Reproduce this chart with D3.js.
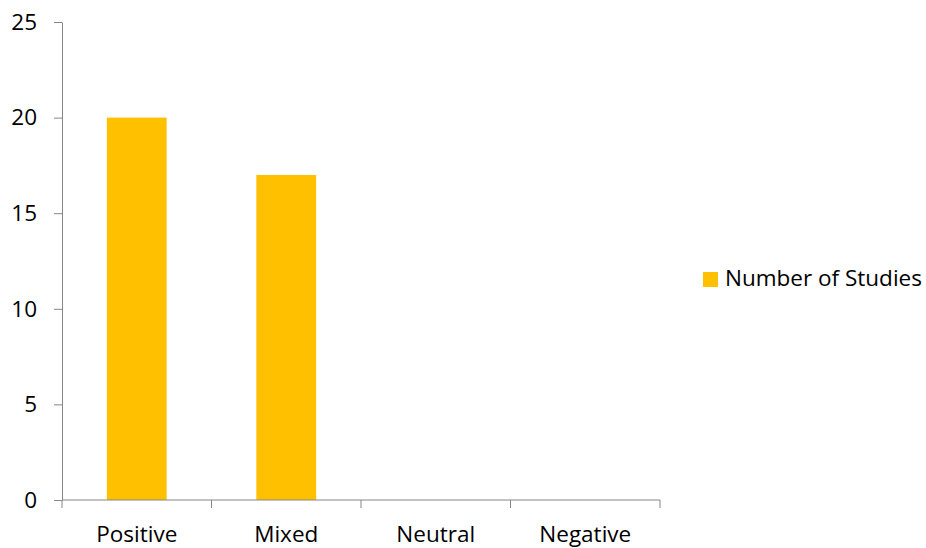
<!DOCTYPE html>
<html>
<head>
<meta charset="utf-8">
<script src="https://cdnjs.cloudflare.com/ajax/libs/d3/7.8.5/d3.min.js"></script>
<style>
  body { margin: 0; background: #fff; }
  text { font-family: "Open Sans", sans-serif; fill: #000; }
</style>
</head>
<body>
<script>
// data
const categories = ["Positive", "Mixed", "Neutral", "Negative"];
const values = [20, 17, 0, 0];
const yTicks = [0, 5, 10, 15, 20, 25];
const seriesName = "Number of Studies";

const width = 926, height = 548;
const plot = {left: 62, right: 660, top: 22, bottom: 500};
const fontSize = 22.5;

const svg = d3.select("body").append("svg")
    .attr("width", width)
    .attr("height", height);

// x scale for the bars
const x = d3.scaleBand()
    .domain(categories)
    .range([plot.left, plot.right])
    .paddingInner(0.6)
    .paddingOuter(0.3);

// x scale for the category tick marks (no padding)
const xCat = d3.scaleBand()
    .domain(categories)
    .range([plot.left, plot.right]);

const y = d3.scaleLinear()
    .domain([0, 25])
    .range([plot.bottom, plot.top]);

// bars
svg.selectAll("rect.bar")
    .data(values)
    .enter()
    .append("rect")
        .attr("class", "bar")
        .attr("x", (d, i) => x(categories[i]))
        .attr("y", d => y(d))
        .attr("width", x.bandwidth())
        .attr("height", d => y(0) - y(d))
        .attr("fill", "#FFC000");

// Y axis
const yAxis = svg.append("g")
    .attr("transform", "translate(" + plot.left + ",0)")
    .call(d3.axisLeft(y).tickValues(yTicks).tickSize(8).tickSizeOuter(0).tickPadding(17));
yAxis.select(".domain").attr("stroke", "#868686");
yAxis.selectAll(".tick line").attr("stroke", "#868686");
yAxis.selectAll(".tick text")
    .attr("font-size", fontSize)
    .attr("font-family", "'Open Sans', sans-serif")
    .attr("fill", "#000");

// X axis line and ticks at category boundaries
const xAxis = svg.append("g");
xAxis.append("line")
    .attr("x1", plot.left).attr("x2", plot.right)
    .attr("y1", y(0)).attr("y2", y(0))
    .attr("stroke", "#868686");
const bounds = categories.map(c => xCat(c)).concat([plot.right]);
xAxis.selectAll("line.tk")
    .data(bounds)
    .enter()
    .append("line")
        .attr("class", "tk")
        .attr("x1", d => d).attr("x2", d => d)
        .attr("y1", y(0)).attr("y2", y(0) + 8)
        .attr("stroke", "#868686");
xAxis.selectAll("text")
    .data(categories)
    .enter()
    .append("text")
        .attr("x", d => xCat(d) + xCat.bandwidth() / 2)
        .attr("y", 542)
        .attr("text-anchor", "middle")
        .attr("font-size", fontSize)
        .text(d => d);

// legend
const legend = svg.append("g");
legend.append("rect")
    .attr("x", 703).attr("y", 272)
    .attr("width", 15).attr("height", 15)
    .attr("fill", "#FFC000");
legend.append("text")
    .attr("x", 725).attr("y", 286)
    .attr("font-size", fontSize)
    .text(seriesName);
</script>
</body>
</html>
